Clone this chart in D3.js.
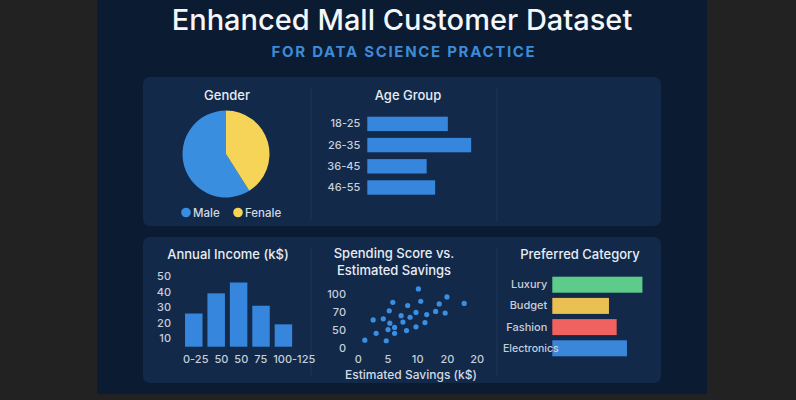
<!DOCTYPE html>
<meta charset="utf-8">
<style>
body { margin: 0; background: #222222; }
svg { display: block; font-family: Inter, "Noto Sans", sans-serif; }
.card-title { fill: #e8edf4; font-size: 13px; font-weight: 500; text-anchor: middle; }
.tick text { fill: #c7cfdb; font-size: 11px; font-weight: 500; font-family: Inter, "Noto Sans", sans-serif; }
.legend text { fill: #d3dae4; font-size: 11.5px; font-weight: 500; }
</style>
<svg width="796" height="400"></svg>
<script src="https://d3js.org/d3.v7.min.js"></script>
<script>

// data
var genderLabels = ["Male", "Fenale"];
var genderValues = [59, 41];

var ageGroups = ["18-25", "26-35", "36-45", "46-55"];
var ageCounts = [38, 49, 28, 32];

var incomeBins = ["0-25", "50 ", "50", "75", "100-125"];
var incomeCounts = [26, 39, 46, 31, 19];
var incomeTicks = [10, 20, 30, 40, 50];

var savings = [10.2, 15.0, 17.9, 5.9, 10.6, 8.4, 13.7, 5.3, 9.8, 13.1, 14.7, 11.6, 7.3, 8.8,
               2.6, 4.3, 7.6, 5.4, 11.3, 6.2, 5.1, 9.8, 3.1, 6.2, 8.2, 1.2, 4.8];
var scores  = [110, 95, 83, 85, 87, 79, 82, 69, 66, 68, 65, 62, 60, 57,
               52, 54, 48, 46, 47, 38, 34, 39, 27, 27, 32, 14, 13];
var savingsTickLabels = ["0", "5", "10", "20", "20 "];
var scoreTickLabels = ["0", "50", "70", "100"];

var categories = ["Luxury", "Budget", "Fashion", "Electronics"];
var categoryShares = [35, 22, 25, 29];
var categoryColors = ["#5fcb8a", "#ebc052", "#ef625f", "#3a86d8"];

var blue = "#3586dc";

var svg = d3.select("svg");

// background panel + cards
svg.append("rect").attr("x", 97).attr("y", 0).attr("width", 610).attr("height", 394).attr("fill", "#0b1b31");
svg.append("rect").attr("x", 143).attr("y", 77).attr("width", 518).attr("height", 149).attr("rx", 7).attr("fill", "#12294a");
svg.append("rect").attr("x", 143).attr("y", 237).attr("width", 518).attr("height", 146).attr("rx", 7).attr("fill", "#12294a");

[[311, 88, 220], [497, 88, 222], [311, 248, 376], [497, 248, 376]].forEach(function(d) {
  svg.append("line").attr("x1", d[0]).attr("x2", d[0]).attr("y1", d[1]).attr("y2", d[2])
    .attr("stroke", "#1d3659").attr("stroke-width", 1);
});

// titles
svg.append("text").attr("x", 402).attr("y", 30).attr("text-anchor", "middle")
  .attr("fill", "#f4f6f9").style("font-size", "29px").style("font-weight", 500)
  .text("Enhanced Mall Customer Dataset");
svg.append("text").attr("x", 404).attr("y", 57).attr("text-anchor", "middle")
  .attr("fill", "#3d8bd8").style("font-size", "15px").style("font-weight", 700)
  .style("letter-spacing", "1.7px")
  .text("FOR DATA SCIENCE PRACTICE");

function cardTitle(x, y, t) {
  svg.append("text").attr("class", "card-title").attr("x", x).attr("y", y).text(t);
}
function cleanAxis(g) {
  g.select(".domain").remove();
  g.selectAll(".tick line").remove();
}

// ---- Gender pie
cardTitle(227, 100, "Gender");
var pieColor = d3.scaleOrdinal().domain(genderLabels).range(["#3a8ee0", "#f5d457"]);
var maleAngle = 2 * Math.PI * genderValues[0] / d3.sum(genderValues);
var pie = d3.pie().sort(null).startAngle(-maleAngle).endAngle(2 * Math.PI - maleAngle);
var arc = d3.arc().innerRadius(0).outerRadius(43.5);
svg.append("g").attr("transform", "translate(226,154)")
  .selectAll("path").data(pie(genderValues)).join("path")
  .attr("d", arc).attr("fill", function(d, i) { return pieColor(genderLabels[i]); });

var legend = svg.append("g").attr("class", "legend");
var legendX = d3.scalePoint().domain(genderLabels).range([186, 238]);
legend.selectAll("circle").data(genderLabels).join("circle")
  .attr("cx", function(d) { return legendX(d); }).attr("cy", 212.5).attr("r", 4.8)
  .attr("fill", function(d) { return pieColor(d); });
legend.selectAll("text").data(genderLabels).join("text")
  .attr("x", function(d) { return legendX(d) + 7; }).attr("y", 216.5).text(function(d) { return d; });

// ---- Age group bars
cardTitle(408, 100, "Age Group");
var ageY = d3.scaleBand().domain(ageGroups).range([116.7, 194.7]).paddingInner(0.32);
var ageX = d3.scaleLinear().domain([0, 50]).range([0, 106]);
var ageG = svg.append("g").attr("transform", "translate(367.3,0)");
ageG.selectAll("rect").data(ageGroups).join("rect")
  .attr("x", 0).attr("y", function(d) { return ageY(d); })
  .attr("width", function(d, i) { return ageX(ageCounts[i]); })
  .attr("height", ageY.bandwidth()).attr("fill", blue);
ageG.append("g").call(d3.axisLeft(ageY).tickSize(0).tickPadding(7)).call(cleanAxis);

// ---- Annual income histogram
cardTitle(228, 259, "Annual Income (k$)");
var incX = d3.scaleBand().domain(incomeBins).range([182.8, 294.4]).paddingInner(0.22).paddingOuter(0.1);
var incY = d3.scaleLinear().domain([0, 50]).range([353.8, 276.3]);
var incFloor = 346.7;
svg.append("g").selectAll("rect").data(incomeBins).join("rect")
  .attr("x", function(d) { return incX(d); })
  .attr("y", function(d, i) { return incY(incomeCounts[i]); })
  .attr("width", incX.bandwidth())
  .attr("height", function(d, i) { return incFloor - incY(incomeCounts[i]); })
  .attr("fill", blue);
svg.append("g").attr("transform", "translate(171,0)")
  .call(d3.axisLeft(incY).tickValues(incomeTicks).tickSize(0).tickPadding(0)).call(cleanAxis);
var incAxis = svg.append("g").attr("transform", "translate(0,348)")
  .call(d3.axisBottom(incX).tickSize(0).tickPadding(7)).call(cleanAxis);
// labels run as one spaced line under the bars, as in the source image
var cursor = 183;
incAxis.selectAll(".tick").each(function() {
  var t = d3.select(this).select("text");
  t.text(t.text().trim());
  var w = t.node().getComputedTextLength();
  var cx = +d3.select(this).attr("transform").match(/translate\(([-\d.]+)/)[1];
  t.attr("text-anchor", "start").attr("x", cursor - cx);
  cursor += w + 6;
});

// ---- Spending score vs savings scatter
cardTitle(394, 258, "Spending Score vs.");
cardTitle(394, 275, "Estimated Savings");
var sx = d3.scaleLinear().domain([0, 20]).range([357.7, 476.7]);
var sy = d3.scaleLinear().domain([0, 100]).range([347.7, 294.3]);
var sxTicks = d3.scalePoint().domain(savingsTickLabels).range([357.7, 476.7]);
var syTicks = d3.scalePoint().domain(scoreTickLabels).range([347.7, 294.3]);
svg.append("g").selectAll("circle").data(savings).join("circle")
  .attr("cx", function(d) { return sx(d); })
  .attr("cy", function(d, i) { return sy(scores[i]); })
  .attr("r", 2.6).attr("fill", "#3b8fe3");
svg.append("g").attr("transform", "translate(346,0)")
  .call(d3.axisLeft(syTicks).tickSize(0).tickPadding(0)).call(cleanAxis);
svg.append("g").attr("transform", "translate(0,348)")
  .call(d3.axisBottom(sxTicks).tickSize(0).tickPadding(7)).call(cleanAxis);
svg.append("text").attr("x", 411).attr("y", 379).attr("text-anchor", "middle")
  .attr("fill", "#d3dae4").style("font-size", "12px").style("font-weight", 500)
  .text("Estimated Savings (k$)");

// ---- Preferred category bars
cardTitle(580, 259, "Preferred Category");
var catY = d3.scaleBand().domain(categories).range([276.7, 356.3]).paddingInner(0.245);
var catX = d3.scaleLinear().domain([0, 40]).range([0, 103]);
var catLeft = 552.3;
var catG = svg.append("g").attr("transform", "translate(" + catLeft + ",0)");
catG.selectAll("rect").data(categories).join("rect")
  .attr("x", 0).attr("y", function(d) { return catY(d); })
  .attr("width", function(d, i) { return catX(categoryShares[i]); })
  .attr("height", catY.bandwidth())
  .attr("fill", function(d, i) { return categoryColors[i]; });
var catAxis = catG.append("g").call(d3.axisLeft(catY).tickSize(0).tickPadding(5)).call(cleanAxis);
catAxis.selectAll(".tick text").each(function() {
  var w = this.getComputedTextLength();
  if (catLeft - 5 - w < 503) {
    d3.select(this).attr("text-anchor", "start").attr("x", 503 - catLeft).style("font-size", "10.5px");
  }
});
catAxis.raise();

</script>
